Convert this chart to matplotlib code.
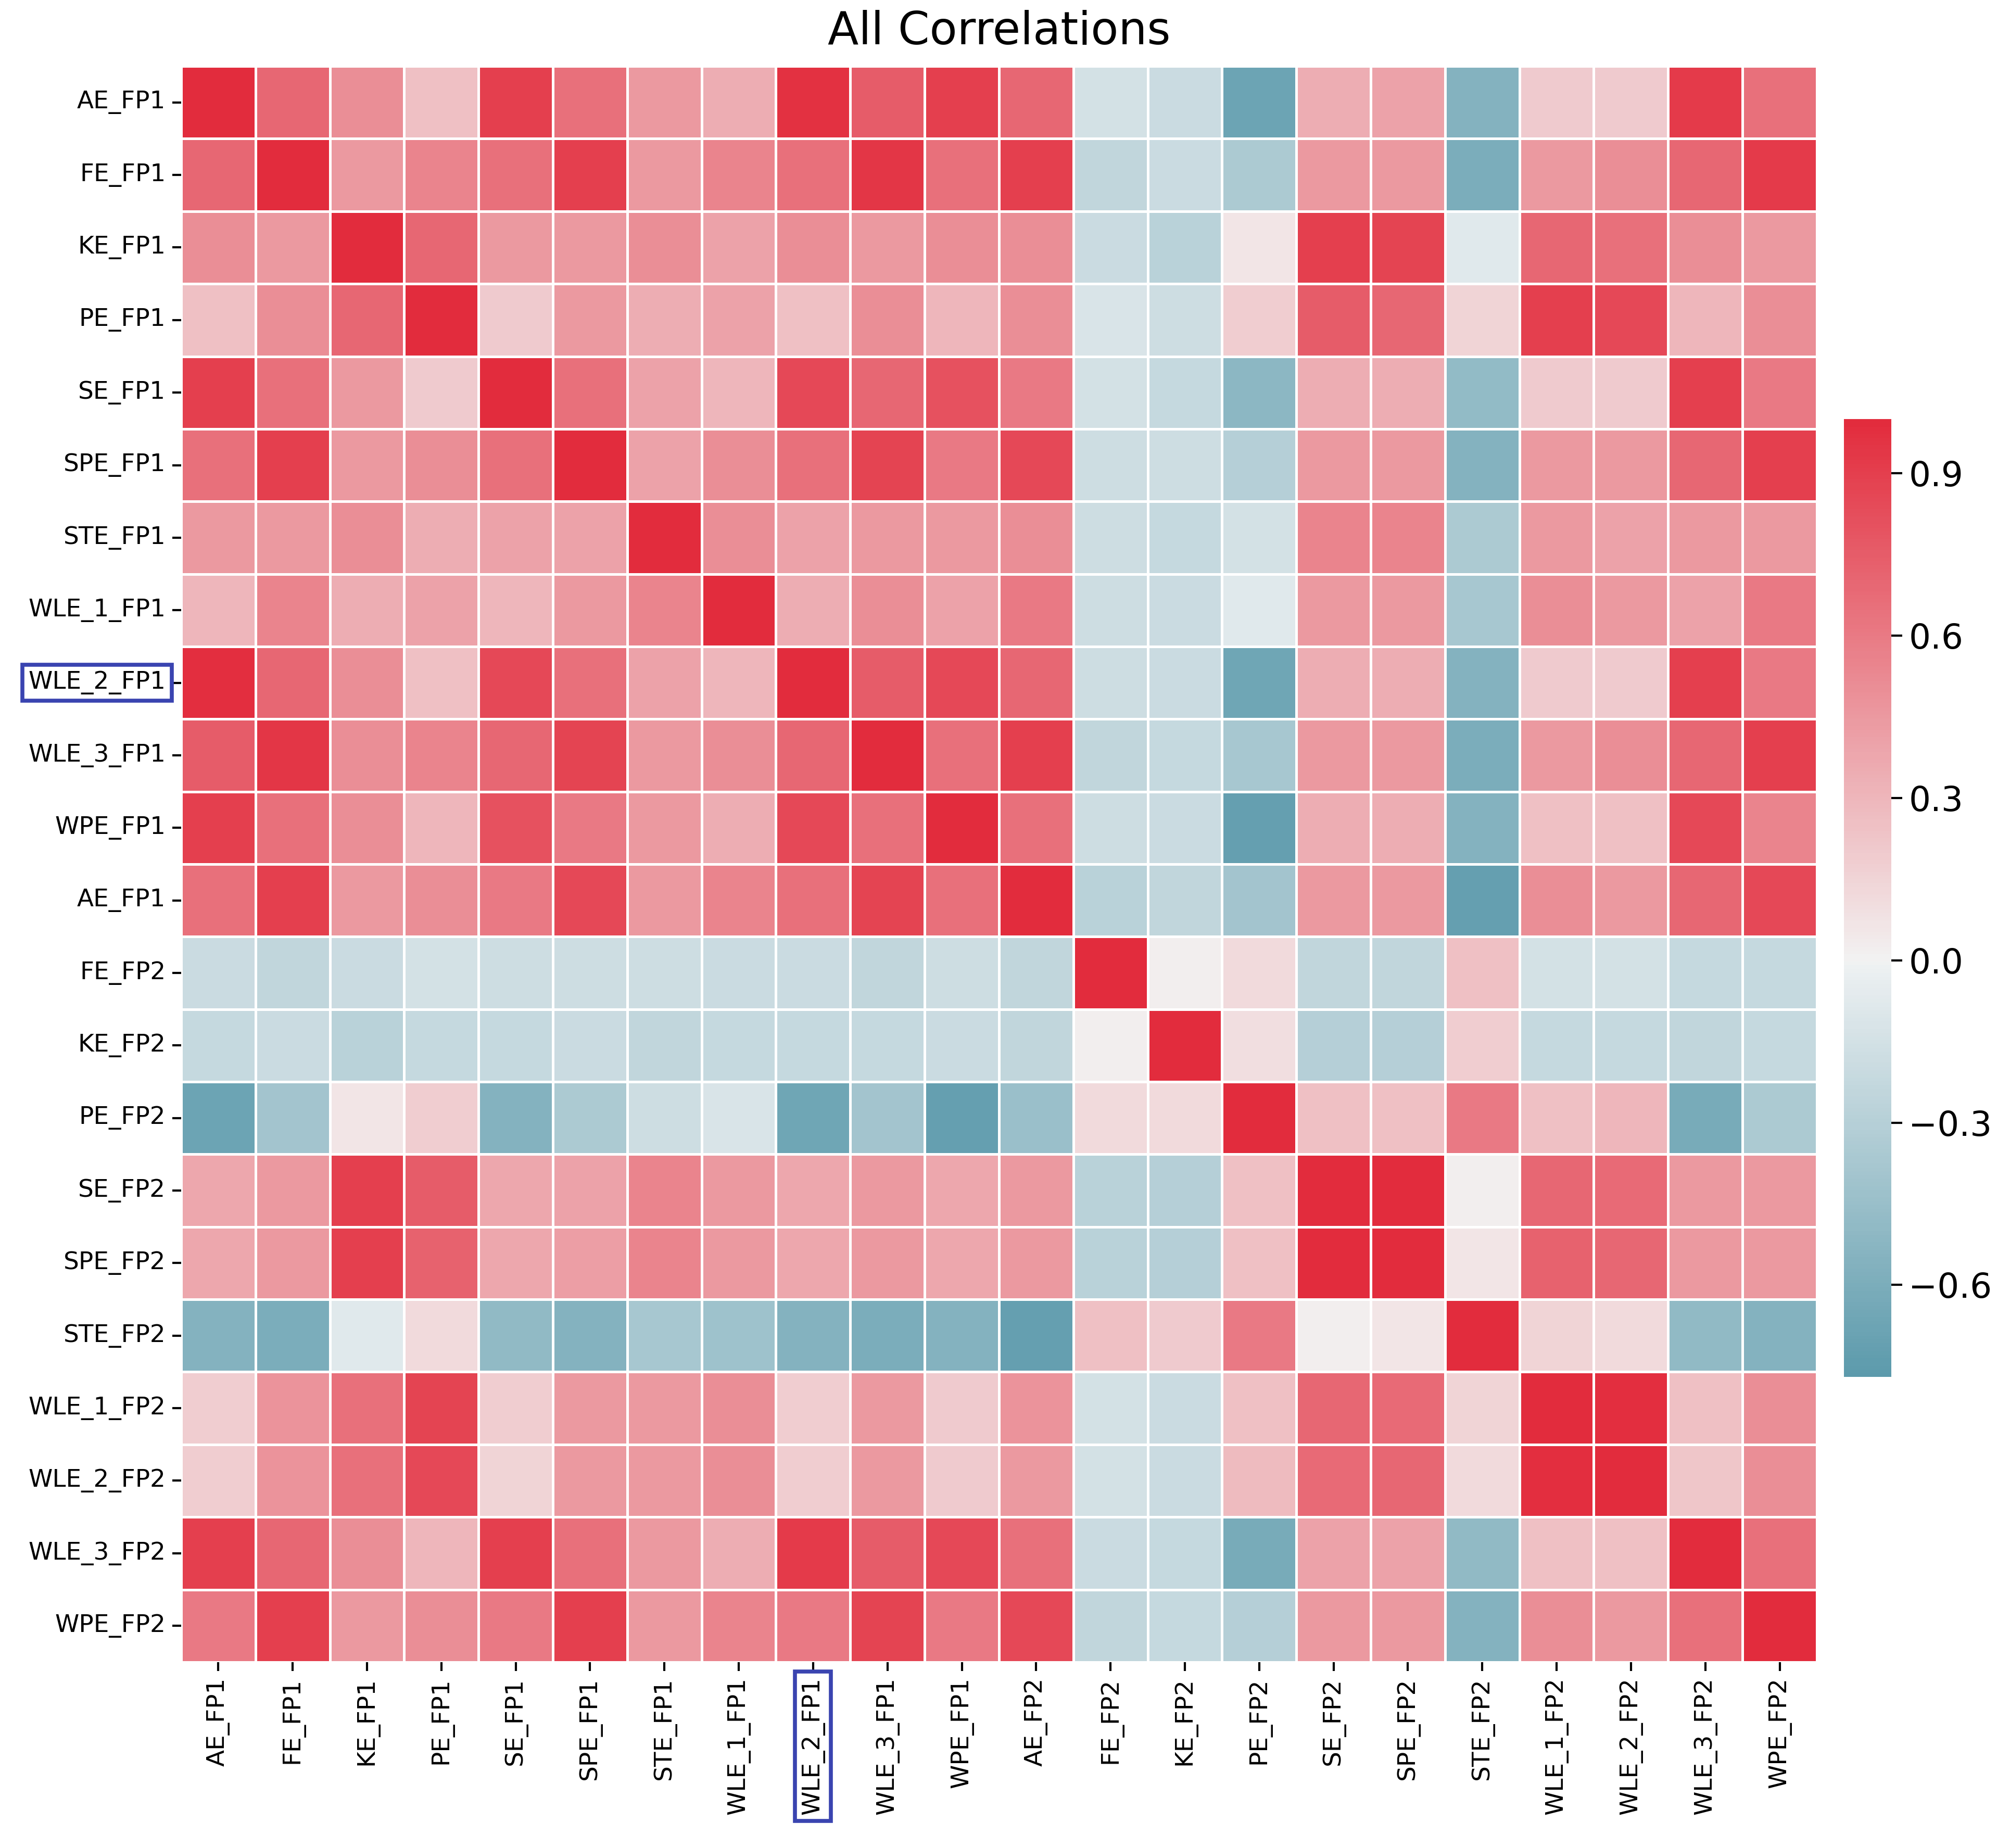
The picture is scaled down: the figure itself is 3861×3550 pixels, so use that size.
import numpy as np
import matplotlib
matplotlib.use("Agg")
import matplotlib.pyplot as plt
import seaborn as sns

# row / column labels as printed on the chart
row_labels = ["AE_FP1", "FE_FP1", "KE_FP1", "PE_FP1", "SE_FP1", "SPE_FP1", "STE_FP1",
              "WLE_1_FP1", "WLE_2_FP1", "WLE_3_FP1", "WPE_FP1", "AE_FP1",
              "FE_FP2", "KE_FP2", "PE_FP2", "SE_FP2", "SPE_FP2", "STE_FP2",
              "WLE_1_FP2", "WLE_2_FP2", "WLE_3_FP2", "WPE_FP2"]
col_labels = ["AE_FP1", "FE_FP1", "KE_FP1", "PE_FP1", "SE_FP1", "SPE_FP1", "STE_FP1",
              "WLE_1_FP1", "WLE_2_FP1", "WLE_3_FP1", "WPE_FP1", "AE_FP2",
              "FE_FP2", "KE_FP2", "PE_FP2", "SE_FP2", "SPE_FP2", "STE_FP2",
              "WLE_1_FP2", "WLE_2_FP2", "WLE_3_FP2", "WPE_FP2"]

# correlation values, one list per row
r_ae1 = [1.00, 0.70, 0.50, 0.25, 0.90, 0.65, 0.45, 0.35, 0.97, 0.75, 0.90, 0.70, -0.15, -0.20, -0.68, 0.35, 0.40, -0.55, 0.20, 0.20, 0.92, 0.65]
r_fe1 = [0.70, 1.00, 0.45, 0.55, 0.65, 0.90, 0.45, 0.55, 0.65, 0.95, 0.65, 0.90, -0.25, -0.20, -0.35, 0.45, 0.45, -0.60, 0.45, 0.50, 0.70, 0.92]
r_ke1 = [0.50, 0.45, 1.00, 0.70, 0.45, 0.45, 0.50, 0.40, 0.50, 0.45, 0.50, 0.50, -0.20, -0.28, 0.06, 0.90, 0.88, -0.08, 0.70, 0.65, 0.50, 0.45]
r_pe1 = [0.25, 0.50, 0.70, 1.00, 0.20, 0.45, 0.35, 0.40, 0.25, 0.50, 0.30, 0.50, -0.12, -0.18, 0.18, 0.75, 0.70, 0.15, 0.90, 0.85, 0.30, 0.50]
r_se1 = [0.90, 0.65, 0.45, 0.20, 1.00, 0.65, 0.40, 0.30, 0.85, 0.70, 0.80, 0.60, -0.15, -0.22, -0.52, 0.35, 0.35, -0.48, 0.20, 0.20, 0.90, 0.60]
r_spe1 = [0.65, 0.90, 0.45, 0.50, 0.65, 1.00, 0.40, 0.50, 0.65, 0.88, 0.60, 0.85, -0.18, -0.18, -0.30, 0.45, 0.45, -0.55, 0.45, 0.45, 0.70, 0.90]
r_ste1 = [0.45, 0.45, 0.50, 0.35, 0.40, 0.40, 1.00, 0.50, 0.40, 0.45, 0.45, 0.50, -0.18, -0.22, -0.15, 0.55, 0.55, -0.35, 0.45, 0.40, 0.45, 0.45]
r_wle11 = [0.30, 0.55, 0.35, 0.40, 0.30, 0.45, 0.55, 1.00, 0.35, 0.50, 0.40, 0.60, -0.18, -0.20, -0.08, 0.45, 0.45, -0.38, 0.50, 0.45, 0.40, 0.60]
r_wle21 = [0.98, 0.70, 0.50, 0.25, 0.85, 0.65, 0.40, 0.30, 1.00, 0.75, 0.85, 0.70, -0.18, -0.20, -0.66, 0.35, 0.35, -0.55, 0.20, 0.20, 0.90, 0.60]
r_wle31 = [0.75, 0.95, 0.50, 0.55, 0.70, 0.88, 0.45, 0.50, 0.70, 1.00, 0.65, 0.90, -0.25, -0.22, -0.38, 0.45, 0.45, -0.60, 0.45, 0.50, 0.70, 0.90]
r_wpe1 = [0.90, 0.65, 0.50, 0.30, 0.80, 0.60, 0.45, 0.35, 0.85, 0.65, 1.00, 0.65, -0.18, -0.20, -0.72, 0.35, 0.35, -0.55, 0.25, 0.25, 0.85, 0.55]
r_ae2 = [0.65, 0.90, 0.45, 0.50, 0.60, 0.85, 0.45, 0.55, 0.65, 0.88, 0.65, 1.00, -0.28, -0.25, -0.40, 0.45, 0.45, -0.72, 0.50, 0.45, 0.70, 0.85]
r_fe2 = [-0.20, -0.25, -0.20, -0.15, -0.18, -0.18, -0.18, -0.20, -0.20, -0.25, -0.18, -0.25, 1.00, 0.02, 0.12, -0.25, -0.25, 0.25, -0.15, -0.15, -0.22, -0.22]
r_ke2 = [-0.22, -0.20, -0.28, -0.22, -0.22, -0.20, -0.25, -0.22, -0.22, -0.22, -0.20, -0.25, 0.02, 1.00, 0.10, -0.30, -0.30, 0.18, -0.22, -0.22, -0.25, -0.22]
r_pe2 = [-0.68, -0.40, 0.06, 0.18, -0.55, -0.35, -0.18, -0.12, -0.66, -0.40, -0.72, -0.45, 0.12, 0.12, 1.00, 0.25, 0.25, 0.60, 0.25, 0.30, -0.62, -0.35]
r_se2 = [0.38, 0.45, 0.90, 0.75, 0.38, 0.40, 0.55, 0.45, 0.38, 0.45, 0.38, 0.45, -0.28, -0.30, 0.25, 1.00, 1.00, 0.02, 0.70, 0.68, 0.45, 0.45]
r_spe2 = [0.38, 0.45, 0.90, 0.72, 0.38, 0.42, 0.55, 0.45, 0.38, 0.45, 0.38, 0.45, -0.28, -0.30, 0.25, 1.00, 1.00, 0.06, 0.72, 0.70, 0.45, 0.45]
r_ste2 = [-0.55, -0.60, -0.08, 0.12, -0.50, -0.55, -0.38, -0.42, -0.55, -0.60, -0.55, -0.72, 0.25, 0.20, 0.60, 0.02, 0.06, 1.00, 0.15, 0.12, -0.50, -0.55]
r_wle12 = [0.18, 0.48, 0.65, 0.88, 0.18, 0.45, 0.45, 0.50, 0.18, 0.45, 0.20, 0.48, -0.15, -0.20, 0.25, 0.70, 0.68, 0.15, 1.00, 0.98, 0.25, 0.50]
r_wle22 = [0.18, 0.48, 0.65, 0.85, 0.15, 0.45, 0.45, 0.50, 0.18, 0.45, 0.20, 0.45, -0.15, -0.20, 0.28, 0.68, 0.70, 0.12, 0.98, 1.00, 0.22, 0.50]
r_wle32 = [0.90, 0.70, 0.50, 0.30, 0.90, 0.65, 0.45, 0.35, 0.92, 0.75, 0.85, 0.65, -0.20, -0.22, -0.62, 0.40, 0.40, -0.50, 0.25, 0.25, 1.00, 0.65]
r_wpe2 = [0.60, 0.90, 0.45, 0.50, 0.60, 0.90, 0.45, 0.55, 0.60, 0.88, 0.60, 0.85, -0.25, -0.22, -0.30, 0.45, 0.45, -0.55, 0.50, 0.45, 0.65, 1.00]

corr = np.array([r_ae1, r_fe1, r_ke1, r_pe1, r_se1, r_spe1, r_ste1, r_wle11, r_wle21,
                 r_wle31, r_wpe1, r_ae2, r_fe2, r_ke2, r_pe2, r_se2, r_spe2, r_ste2,
                 r_wle12, r_wle22, r_wle32, r_wpe2])

cbar_ticks = [-0.6, -0.3, 0.0, 0.3, 0.6, 0.9]

fig = plt.figure(figsize=(15.444, 14.2), dpi=250)
ax = fig.add_axes([0.0901, 0.1006, 0.8138, 0.8636])
cax = fig.add_axes([0.9174, 0.2549, 0.0236, 0.5183])

cmap = sns.diverging_palette(220, 10, s=85, as_cmap=True)
sns.heatmap(corr, cmap=cmap, center=0, vmin=-0.77, vmax=1.0,
            linewidths=1.0, linecolor="white",
            xticklabels=col_labels, yticklabels=row_labels,
            ax=ax, cbar_ax=cax, cbar_kws={"ticks": cbar_ticks})

ax.set_title("All Correlations", fontsize=25, pad=12)
ax.tick_params(axis="both", labelsize=13.5, length=5, width=1.2)
plt.setp(ax.get_xticklabels(), rotation=90)
plt.setp(ax.get_yticklabels(), rotation=0)
cax.tick_params(labelsize=19, length=6, width=1.2)

# blue boxes around the WLE_2_FP1 labels
box = dict(facecolor="none", edgecolor="#3a44b0", linewidth=2.2, boxstyle="square,pad=0.25")
ax.get_yticklabels()[8].set_bbox(box)
ax.get_xticklabels()[8].set_bbox(box)

fig.savefig("out.png", dpi=250)
